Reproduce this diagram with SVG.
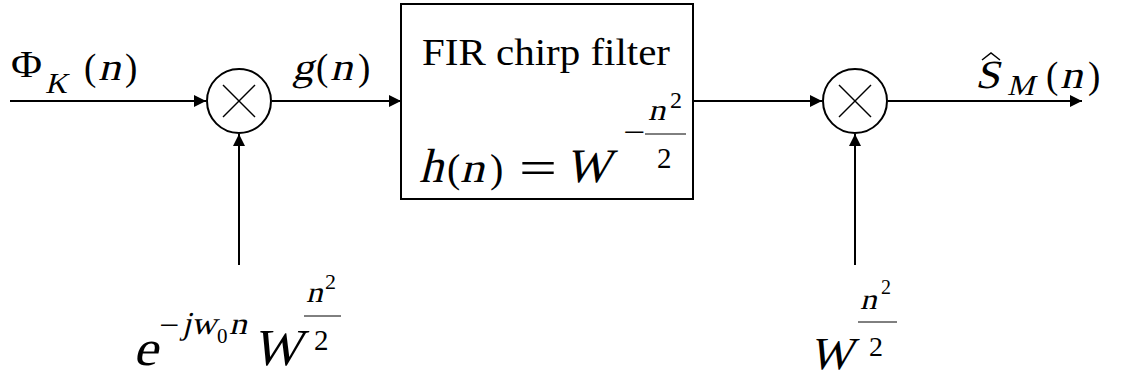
<svg xmlns="http://www.w3.org/2000/svg" width="1123" height="379" viewBox="0 0 1123 379">
<style>
.ln{stroke:#000;stroke-width:2;fill:none}
.x{stroke:#000;stroke-width:1.5}
.bar{stroke:#000;stroke-width:1}
.m{font-family:"Liberation Serif",serif;fill:#000}
.r{font-family:"Liberation Serif",serif;fill:#000}
</style>
<defs>
<marker id="ah" viewBox="0 0 10 10" refX="10" refY="5" markerWidth="12" markerHeight="12" markerUnits="userSpaceOnUse" orient="auto">
<path d="M0,0 L10,5 L0,10 z" fill="#000"/>
</marker>
</defs>
<rect width="1123" height="379" fill="#fff"/>
<g id="connectors">
<line class="ln" x1="10" y1="101" x2="206" y2="101" marker-end="url(#ah)"/>
<line class="ln" x1="272" y1="101" x2="401" y2="101" marker-end="url(#ah)"/>
<line class="ln" x1="239" y1="265" x2="239" y2="134" marker-end="url(#ah)"/>
<line class="ln" x1="693" y1="101" x2="822" y2="101" marker-end="url(#ah)"/>
<line class="ln" x1="888" y1="101" x2="1082" y2="101" marker-end="url(#ah)"/>
<line class="ln" x1="855" y1="265" x2="855" y2="134" marker-end="url(#ah)"/>
</g>
<g id="mult1">
<circle class="ln" cx="239" cy="101" r="32"/>
<line class="x" x1="223" y1="85" x2="255" y2="117"/>
<line class="x" x1="255" y1="85" x2="223" y2="117"/>
</g>
<g id="filter">
<rect class="ln" x="401" y="4" width="292" height="195"/>
<text class="r" x="422" y="65" font-size="37" textLength="248" lengthAdjust="spacingAndGlyphs">FIR chirp filter</text>
<text class="m" transform="translate(419,182) skewX(-14)" font-size="48">h</text>
<text class="r" x="447" y="182" font-size="40">(</text>
<text class="m" transform="translate(460,182) skewX(-14) scale(1.15,1)" font-size="42">n</text>
<text class="r" x="490" y="182" font-size="40">)</text>
<text class="r" x="519" y="184" font-size="48" textLength="38" lengthAdjust="spacingAndGlyphs">=</text>
<text class="m" transform="translate(565,182) skewX(-14)" font-size="48">W</text>
<text class="r" x="623" y="143" font-size="32" textLength="22" lengthAdjust="spacingAndGlyphs">−</text>
<text class="m" transform="translate(648,120) skewX(-14) scale(1.15,1)" font-size="30">n</text>
<text class="r" x="670" y="108" font-size="24">2</text>
<line class="bar" x1="645" y1="134" x2="686" y2="134"/>
<text class="r" x="657" y="168" font-size="29">2</text>
</g>
<g id="mult2">
<circle class="ln" cx="855" cy="101" r="32"/>
<line class="x" x1="839" y1="85" x2="871" y2="117"/>
<line class="x" x1="871" y1="85" x2="839" y2="117"/>
</g>
<g id="label-phi">
<text class="r" x="11" y="77" font-size="37" textLength="31" lengthAdjust="spacingAndGlyphs">Φ</text>
<text class="m" transform="translate(45,93) skewX(-14) scale(1.05,1)" font-size="29">K</text>
<text class="r" x="84" y="80" font-size="37">(</text>
<text class="m" transform="translate(98,80) skewX(-14) scale(1.15,1)" font-size="39">n</text>
<text class="r" x="125" y="80" font-size="37">)</text>
</g>
<g id="label-g">
<text class="m" transform="translate(292,80) skewX(-14) scale(1.1,1)" font-size="39">g</text>
<text class="r" x="316" y="80" font-size="37">(</text>
<text class="m" transform="translate(330,80) skewX(-14) scale(1.15,1)" font-size="39">n</text>
<text class="r" x="358" y="80" font-size="37">)</text>
</g>
<g id="label-s">
<text class="m" transform="translate(975,88) skewX(-14) scale(1.1,1)" font-size="40">S</text>
<path d="M982,60 L991,53 L1000,60" fill="none" stroke="#000" stroke-width="1.5"/>
<text class="m" transform="translate(1007,95) skewX(-14) scale(1.05,1)" font-size="29">M</text>
<text class="r" x="1046" y="88" font-size="37">(</text>
<text class="m" transform="translate(1060,88) skewX(-14) scale(1.15,1)" font-size="39">n</text>
<text class="r" x="1088" y="88" font-size="37">)</text>
</g>
<g id="label-in2">
<text class="m" transform="translate(133,365) skewX(-14) scale(1.1,1)" font-size="50">e</text>
<text class="r" x="159" y="336" font-size="32" textLength="20" lengthAdjust="spacingAndGlyphs">−</text>
<text class="m" transform="translate(182,334) skewX(-14)" font-size="32">j</text>
<text class="m" transform="translate(191,334) skewX(-14) scale(1.1,1)" font-size="32">w</text>
<text class="r" x="217" y="343" font-size="21">0</text>
<text class="m" transform="translate(229,334) skewX(-14) scale(1.15,1)" font-size="31">n</text>
<text class="m" transform="translate(252,365) skewX(-14)" font-size="52">W</text>
<text class="m" transform="translate(306,302) skewX(-14) scale(1.15,1)" font-size="29">n</text>
<text class="r" x="325" y="289" font-size="22">2</text>
<line class="bar" x1="304" y1="316" x2="341" y2="316"/>
<text class="r" x="314" y="350" font-size="29">2</text>
</g>
<g id="label-in3">
<text class="m" transform="translate(809,369) skewX(-14)" font-size="46">W</text>
<text class="m" transform="translate(860,309) skewX(-14) scale(1.15,1)" font-size="29">n</text>
<text class="r" x="881" y="294" font-size="20">2</text>
<line class="bar" x1="858" y1="322" x2="897" y2="322"/>
<text class="r" x="869" y="356" font-size="28">2</text>
</g>
</svg>
